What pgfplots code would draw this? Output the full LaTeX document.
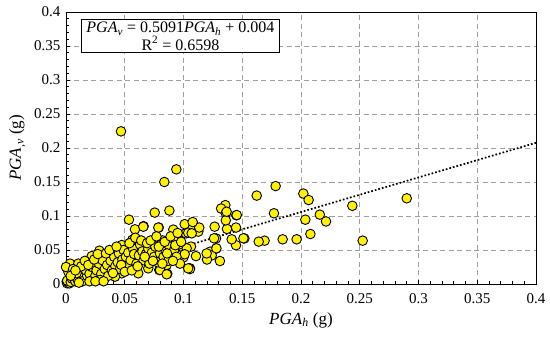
\documentclass[border=0pt]{standalone}
\usepackage{pgfplots}
\pgfplotsset{compat=1.18}
\usepackage{fontspec}
\setmainfont{Liberation Serif}
\begin{document}
\begin{tikzpicture}
\path[use as bounding box] (-66pt,-58pt) rectangle (484pt,284pt);
\begin{axis}[
  scale only axis, width=470pt, height=272pt,
  xmin=0, xmax=0.4, ymin=0, ymax=0.4,
  xtick={0,0.05,...,0.4}, ytick={0,0.05,...,0.4},
  xticklabels={0,0.05,0.1,0.15,0.2,0.25,0.3,0.35,0.4},
  yticklabels={0,0.05,0.1,0.15,0.2,0.25,0.3,0.35,0.4},
  minor tick num=4,
  tick align=inside, xtick pos=bottom, ytick pos=left,
  major tick length=4pt, minor tick length=3pt,
  tick style={black, line width=0.6pt},
  grid=major,
  major grid style={gray!75, line width=0.7pt, dash pattern=on 5pt off 3.5pt},
  axis line style={black, line width=0.8pt},
  ticklabel style={font=\fontsize{15}{17}\selectfont},
  xticklabel style={yshift=-6pt},
  yticklabel style={xshift=-2pt},
  /pgf/number format/assume math mode=true,
  xlabel={\textit{PGA}\textsubscript{\textit{h}} (g)},
  ylabel={\textit{PGA}\textsubscript{,\textit{v}} (g)},
  label style={font=\fontsize{17}{19}\selectfont},
  xlabel style={yshift=-2pt},
  ylabel style={yshift=2pt},
  clip=false,
]
\addplot[only marks, mark=*, mark size=4.8pt, mark options={fill=yellow, draw=black, line width=0.9pt}] coordinates {
(0.0468,0.2245)(0.0939,0.1686)(0.0837,0.150)(0.1623,0.130)(0.1784,0.144)(0.202,0.133)(0.2065,0.1235)(0.2437,0.115)(0.2525,0.0637)(0.29,0.126)
(0.177,0.104)(0.2037,0.0946)(0.216,0.102)(0.2213,0.092)(0.208,0.0735)(0.1963,0.0657)(0.1844,0.0657)(0.169,0.0637)(0.164,0.0623)(0.1518,0.067)
(0.1447,0.057)(0.141,0.0657)(0.1447,0.083)(0.137,0.081)(0.145,0.101)(0.1356,0.116)(0.132,0.111)(0.136,0.104)(0.136,0.0936)(0.1265,0.0843)
(0.1277,0.067)(0.1277,0.052)(0.1226,0.0475)(0.124,0.042)(0.120,0.036)(0.131,0.0338)(0.1055,0.023)(0.1106,0.041)(0.1064,0.055)(0.102,0.0745)
(0.108,0.090)(0.1055,0.083)(0.1126,0.077)(0.1134,0.083)(0.101,0.088)(0.0999,0.0525)(0.0999,0.039)(0.0536,0.0946)(0.0755,0.105)(0.088,0.108)
(0.0587,0.0804)(0.066,0.085)(0.0789,0.083)(0.0913,0.080)(0.1078,0.0911)(0.104,0.0754)(0.0913,0.0672)(0.0956,0.0657)(0.1197,0.045)(0.128,0.0525)
(0.126,0.0672)(0.1367,0.1063)(0.1453,0.1014)(0.151,0.0672)(0.0284,0.049)(0.0567,0.0647)(0.0749,0.0627)(0.0823,0.064)(0.0922,0.067)(0.1055,0.022)
(0.0862,0.015)(0.0794,0.0206)(0.0658,0.0843)(0.0786,0.083)(0.107,0.0745)(0.0564,0.0647)(0.0516,0.055)(0.0615,0.0525)(0.0678,0.0548)(0.0735,0.0573)
(0.0791,0.0485)(0.0848,0.0525)(0.090,0.0598)(0.0928,0.0672)(0.0985,0.0548)(0.1027,0.0525)(0.101,0.0437)(0.0928,0.0378)(0.0857,0.028)(0.080,0.0206)
(0.0857,0.0143)(0.070,0.023)(0.0615,0.0157)(0.0587,0.0378)(0.0559,0.0304)(0.104,0.023)(0.0715,0.0378)(0.077,0.0378)(0.0219,0.041)(0.0374,0.041)
(0.0474,0.0573)(0.0034,0.030)(0.0105,0.030)(0.0162,0.0255)(0.0318,0.0255)(0.040,0.030)(0.0232,0.018)(0.0346,0.018)(0.0431,0.0206)(0.0474,0.0157)
(0.0006,0.0034)(0.0062,0.006)(0.0119,0.0083)(0.0219,0.0083)(0.0318,0.0083)(0.0417,0.0108)(0.050,0.030)(0.0134,0.018)
(0.001,0.001)(0.002,0.002)(0.003,0.001)(0.001,0.005)(0.004,0.003)(0.005,0.008)(0.008,0.004)(0.007,0.012)(0.010,0.006)(0.012,0.014)
(0.015,0.010)(0.014,0.004)(0.018,0.012)(0.017,0.020)(0.020,0.015)(0.022,0.025)(0.025,0.012)(0.026,0.020)(0.028,0.030)(0.030,0.015)
(0.031,0.035)(0.033,0.022)(0.035,0.028)(0.036,0.012)(0.038,0.034)(0.039,0.020)(0.041,0.040)(0.042,0.026)(0.044,0.032)(0.045,0.045)
(0.046,0.022)(0.048,0.036)(0.049,0.050)(0.051,0.040)(0.052,0.025)(0.053,0.046)(0.055,0.035)(0.057,0.052)(0.058,0.044)(0.060,0.030)
(0.062,0.042)(0.063,0.058)(0.065,0.048)(0.066,0.035)(0.068,0.044)(0.070,0.052)(0.071,0.030)(0.073,0.046)(0.075,0.040)(0.076,0.055)
(0.078,0.032)(0.080,0.045)(0.081,0.058)(0.083,0.040)(0.085,0.048)(0.087,0.034)(0.088,0.055)(0.090,0.045)(0.092,0.050)(0.094,0.040)
(0.096,0.058)(0.097,0.030)(0.002,0.018)(0.0,0.025)(0.006,0.022)(0.009,0.016)(0.013,0.026)(0.016,0.034)(0.019,0.028)(0.024,0.036)
(0.027,0.044)(0.029,0.006)(0.034,0.045)(0.037,0.050)(0.040,0.016)(0.043,0.055)(0.047,0.028)(0.050,0.018)(0.054,0.060)(0.056,0.020)
(0.059,0.068)(0.061,0.026)(0.064,0.064)(0.067,0.040)(0.069,0.060)(0.072,0.064)(0.074,0.034)(0.077,0.070)(0.079,0.055)(0.082,0.030)
(0.084,0.062)(0.086,0.045)(0.089,0.070)(0.091,0.034)(0.093,0.057)(0.095,0.075)(0.098,0.062)(0.011,0.002)(0.004,0.012)(0.008,0.020)
(0.020,0.004)(0.025,0.004)(0.032,0.004)
};
\addplot[black, dotted, line width=1.7pt, no marks] coordinates {(0,0.004)(0.4,0.20764)};
\node[draw=black, line width=0.8pt, fill=white, align=center, anchor=north west, inner xsep=5pt, inner ysep=2.5pt,
  font=\fontsize{16}{17.5}\selectfont] at (rel axis cs:0.032,0.974)
  {\textit{PGA}\textsubscript{\textit{v}} = 0.5091\textit{PGA}\textsubscript{\textit{h}} + 0.004\\ R\textsuperscript{2} = 0.6598};
\end{axis}
\end{tikzpicture}
\end{document}
